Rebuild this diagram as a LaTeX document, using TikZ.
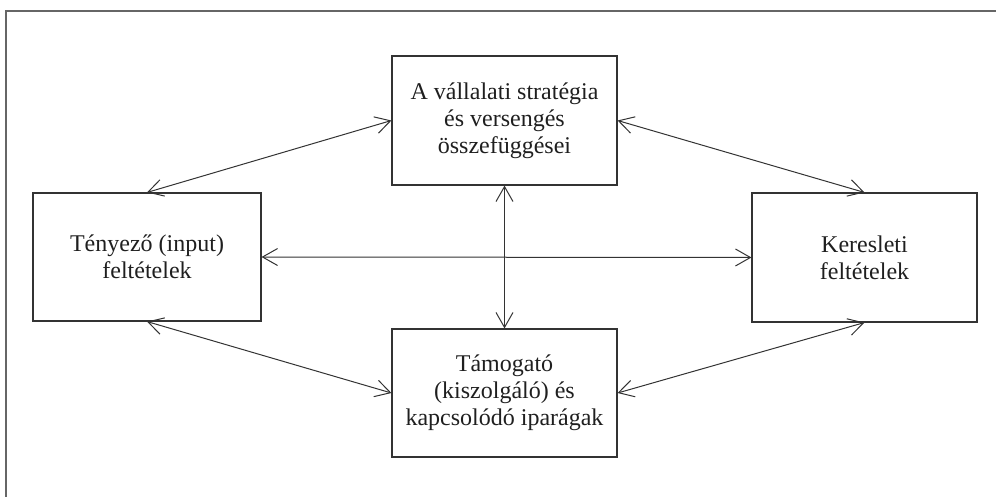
\documentclass[tikz,border=0pt]{standalone}
\usepackage{fontspec}
\setmainfont{Liberation Serif}
\usetikzlibrary{arrows.meta}
\begin{document}
\begin{tikzpicture}[x=1pt,y=-1pt,
  box/.style={draw=black!80, line width=1.1pt, rectangle, inner sep=0pt,
    align=center, text=black!88, font=\fontsize{24}{27}\selectfont},
  link/.style={draw=black!80, line width=1pt,
    {Straight Barb[length=15pt,width=17pt]}-{Straight Barb[length=15pt,width=17pt]}},
  frameline/.style={draw=black!60, line width=2pt}]
  \useasboundingbox (0,0) rectangle (996,497);
  % frame along the top and left
  \coordinate (fA) at (6,497);
  \coordinate (fB) at (6,11);
  \coordinate (fC) at (996,11);
  \draw[frameline] (fA) -- (fB) -- (fC);
  % the four boxes
  \node[box, minimum width=225pt, minimum height=129pt] (top) at (504.5,120.5)
    {A vállalati stratégia\\és versengés\\összefüggései};
  \node[box, minimum width=228pt, minimum height=128pt] (left) at (147,257)
    {Tényező (input)\\feltételek};
  \node[box, minimum width=225pt, minimum height=129pt] (right) at (864.5,257.5)
    {Keresleti\\feltételek};
  \node[box, minimum width=225pt, minimum height=128pt] (bottom) at (504.5,393)
    {Támogató\\(kiszolgáló) és\\kapcsolódó iparágak};
  % two-way links
  \draw[link] (top.west) -- (left.north);
  \draw[link] (top.east) -- (right.north);
  \draw[link] (left.south) -- (bottom.west);
  \draw[link] (right.south) -- (bottom.east);
  \draw[link] (left.east) -- (right.west);
  \draw[link] (top.south) -- (bottom.north);
\end{tikzpicture}
\end{document}
